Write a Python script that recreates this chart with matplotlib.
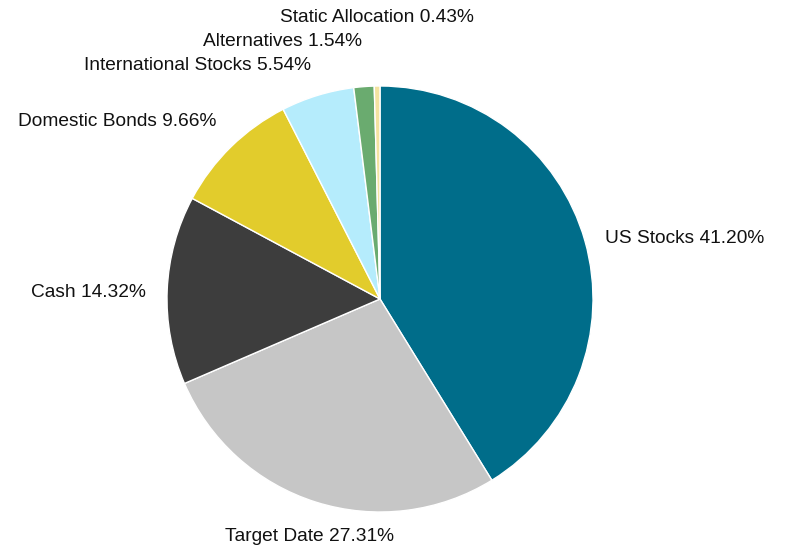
import numpy as np
import matplotlib
matplotlib.use("Agg")
import matplotlib.pyplot as plt

categories = ["US Stocks", "Target Date", "Cash", "Domestic Bonds",
              "International Stocks", "Alternatives", "Static Allocation"]
values = [41.20, 27.31, 14.32, 9.66, 5.54, 1.54, 0.43]
colors = ["#006d8a", "#c6c6c6", "#3d3d3d", "#e2cc2c", "#b5ecfc", "#6aab6f", "#f3e3a0"]

plt.rcParams['font.family'] = ['Liberation Sans', 'DejaVu Sans']

fig = plt.figure(figsize=(7.87, 5.47), dpi=100)
ax = fig.add_axes([0, 0, 1, 1])
wedges, _ = ax.pie(values, colors=colors, startangle=90, counterclock=False,
                   radius=1, center=(0, 0), frame=False,
                   wedgeprops=dict(edgecolor="white", linewidth=1.0))

# label layout: (ha, va, extra dy in data units)
layout = [("left", "center", -0.016),
          ("center", "top", -0.027),
          ("right", "center", -0.016),
          ("right", "center", 0.046),
          ("right", "center", 0.045),
          ("right", "center", 0.112),
          ("center", "center", 0.222)]

for w, cat, val, (ha, va, dy) in zip(wedges, categories, values, layout):
    ang = np.deg2rad((w.theta1 + w.theta2) / 2)
    x, y = 1.1 * np.cos(ang), 1.1 * np.sin(ang) + dy
    ax.text(x, y, f"{cat} {val:.2f}%", ha=ha, va=va, fontsize=13.8, color="#111111")

s = 213.0
ax.set_xlim(-380 / s, (787 - 380) / s)
ax.set_ylim(-(547 - 299) / s, 299 / s)
ax.set_aspect("auto")
ax.axis("off")
fig.savefig("out.png", dpi=100)
